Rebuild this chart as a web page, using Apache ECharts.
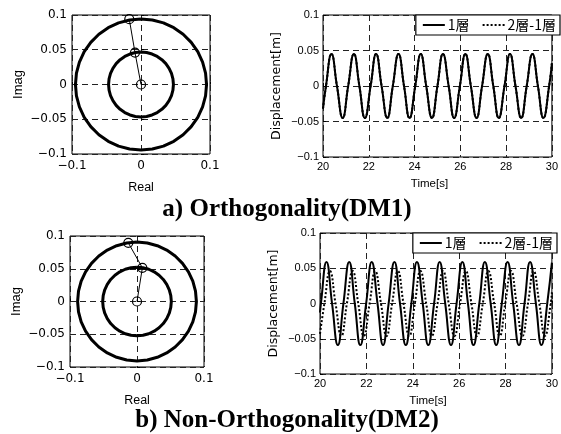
<!DOCTYPE html>
<html><head><meta charset="utf-8">
<script src="https://cdn.jsdelivr.net/npm/echarts@6/dist/echarts.min.js"></script>
<style>html,body{margin:0;padding:0;background:#fff}#c{width:561px;height:434px}</style>
</head><body><div id="c"></div>
<script>
// ---- data ----
const ringAngles = [0,10,20,30,40,50,60,70,80,90,100,110,120,130,140,150,160,170,180,
  190,200,210,220,230,240,250,260,270,280,290,300,310,320,330,340,350,360];
const dm1Radii = [0.047, 0.095];
const dm2Radii = [0.052, 0.090];
const dm1ModeReal = [0, -0.0087, -0.017];
const dm1ModeImag = [0, 0.046, 0.094];
const dm2ModeReal = [0, 0.008, -0.013];
const dm2ModeImag = [0, 0.0514, 0.0896];

const complexXLabels = ['\u22120.1', '0', '0.1'];
const complexYLabels = ['\u22120.1', '\u22120.05', '0', '0.05', '0.1'];
const timeXLabels = ['20', '22', '24', '26', '28', '30'];
const dispYLabels = ['\u22120.1', '\u22120.05', '0', '0.05', '0.1'];
const legendNames = ['1層', '2層-1層'];

const dm1Time = [20.00, 20.13,
  20.37, 20.61, 20.86, 21.10,
  21.35, 21.59, 21.83, 22.08,
  22.32, 22.56, 22.81, 23.05,
  23.30, 23.54, 23.78, 24.03,
  24.27, 24.51, 24.76, 25.00,
  25.24, 25.49, 25.73, 25.98,
  26.22, 26.46, 26.71, 26.95,
  27.20, 27.44, 27.68, 27.93,
  28.17, 28.41, 28.66, 28.90,
  29.15, 29.39, 29.63, 29.88,
  30.00];
const dm1Story1 = [-0.032, 0,
  0.045, 0, -0.045, 0,
  0.045, 0, -0.045, 0,
  0.045, 0, -0.045, 0,
  0.045, 0, -0.045, 0,
  0.045, 0, -0.045, 0,
  0.045, 0, -0.045, 0,
  0.045, 0, -0.045, 0,
  0.045, 0, -0.045, 0,
  0.045, 0, -0.045, 0,
  0.045, 0, -0.045, 0,
  0.032];
const dm1Diff = [-0.032, 0,
  0.045, 0, -0.045, 0,
  0.045, 0, -0.045, 0,
  0.045, 0, -0.045, 0,
  0.045, 0, -0.045, 0,
  0.045, 0, -0.045, 0,
  0.045, 0, -0.045, 0,
  0.045, 0, -0.045, 0,
  0.045, 0, -0.045, 0,
  0.045, 0, -0.045, 0,
  0.045, 0, -0.045, 0,
  0.032];

const dm2Time1 = [20.00, 20.04,
  20.28, 20.52, 20.77, 21.01,
  21.26, 21.50, 21.74, 21.99,
  22.23, 22.48, 22.72, 22.96,
  23.21, 23.45, 23.70, 23.94,
  24.18, 24.43, 24.67, 24.92,
  25.16, 25.40, 25.65, 25.89,
  26.14, 26.38, 26.62, 26.87,
  27.11, 27.36, 27.60, 27.84,
  28.09, 28.33, 28.58, 28.82,
  29.06, 29.31, 29.55, 29.80,
  30.00];
const dm2Story1 = [-0.013, 0,
  0.059, 0, -0.059, 0,
  0.059, 0, -0.059, 0,
  0.059, 0, -0.059, 0,
  0.059, 0, -0.059, 0,
  0.059, 0, -0.059, 0,
  0.059, 0, -0.059, 0,
  0.059, 0, -0.059, 0,
  0.059, 0, -0.059, 0,
  0.059, 0, -0.059, 0,
  0.059, 0, -0.059, 0,
  0.058];
const dm2Time2 = [20.00, 20.19,
  20.43, 20.67, 20.92, 21.16,
  21.41, 21.65, 21.89, 22.14,
  22.38, 22.63, 22.87, 23.11,
  23.36, 23.60, 23.85, 24.09,
  24.33, 24.58, 24.82, 25.07,
  25.31, 25.55, 25.80, 26.04,
  26.29, 26.53, 26.77, 27.02,
  27.26, 27.51, 27.75, 27.99,
  28.24, 28.48, 28.73, 28.97,
  29.21, 29.46, 29.70, 29.95,
  30.00];
const dm2Diff = [-0.043, 0,
  0.046, 0, -0.046, 0,
  0.046, 0, -0.046, 0,
  0.046, 0, -0.046, 0,
  0.046, 0, -0.046, 0,
  0.046, 0, -0.046, 0,
  0.046, 0, -0.046, 0,
  0.046, 0, -0.046, 0,
  0.046, 0, -0.046, 0,
  0.046, 0, -0.046, 0,
  0.046, 0, -0.046, 0,
  0.016];

// ---- helpers ----
const zip = (a, b) => a.map((x, i) => [x, b[i]]);
const ring = r => ringAngles.map(a => [r, a]);

const split = {show: true, lineStyle: {color: '#222', width: 1, type: [6, 4]}};
const tickIn = {show: true, inside: true, length: 3, lineStyle: {color: '#000'}};
const fontC = {fontFamily: 'DejaVu Sans', fontSize: 12, color: '#000'};
const fontT = {fontFamily: 'Liberation Sans', fontSize: 11, color: '#000'};

function complexX(gi) {
  return {type: 'value', gridIndex: gi, min: -0.1, max: 0.1, interval: 0.1,
    axisLine: {show: false}, axisTick: tickIn, splitLine: split,
    axisLabel: Object.assign({margin: 6, formatter: (v, i) => complexXLabels[i]}, fontC),
    name: 'Real', nameLocation: 'middle', nameGap: 27,
    nameTextStyle: {fontFamily: 'Liberation Sans', fontSize: 12.5, color: '#000'}};
}
function complexY(gi) {
  return {type: 'value', gridIndex: gi, min: -0.1, max: 0.1, interval: 0.05,
    axisLine: {show: false}, axisTick: tickIn, splitLine: split,
    axisLabel: Object.assign({margin: 5, formatter: (v, i) => complexYLabels[i]}, fontC),
    name: 'Imag', nameLocation: 'middle', nameGap: 47,
    nameTextStyle: {fontFamily: 'Liberation Sans', fontSize: 13, color: '#000'}};
}
function timeX(gi) {
  return {type: 'value', gridIndex: gi, min: 20, max: 30, interval: 2,
    axisLine: {show: false}, axisTick: tickIn, splitLine: split,
    axisLabel: Object.assign({margin: 4, formatter: (v, i) => timeXLabels[i]}, fontT),
    name: 'Time[s]', nameLocation: 'middle', nameGap: 21,
    nameTextStyle: {fontFamily: 'Liberation Sans', fontSize: 11.5, color: '#000', padding: [0, 16, 0, 0]}};
}
function dispY(gi) {
  return {type: 'value', gridIndex: gi, min: -0.1, max: 0.1, interval: 0.05,
    axisLine: {show: false}, axisTick: tickIn, splitLine: split,
    axisLabel: Object.assign({margin: 4, formatter: (v, i) => dispYLabels[i]}, fontT),
    name: 'Displacement[m]', nameLocation: 'middle', nameGap: 40,
    nameTextStyle: {fontFamily: 'DejaVu Sans', fontSize: 12.5, color: '#000'}};
}
const gridBase = {show: true, borderColor: '#000', borderWidth: 1, backgroundColor: '#fff'};
function legendAt(top, right) {
  return {data: legendNames, top: top, right: right, orient: 'horizontal',
    borderColor: '#000', borderWidth: 1.2, backgroundColor: '#fff', borderRadius: 0,
    padding: [3, 4, 3, 6], itemGap: 12, itemWidth: 22, itemHeight: 12,
    itemStyle: {opacity: 0},
    textStyle: {fontFamily: 'Noto Sans CJK JP', fontSize: 14, color: '#000', padding: [0, 0, 0, -2]}};
}
function ringSeries(pi, r) {
  return {type: 'line', coordinateSystem: 'polar', polarIndex: pi, data: ring(r),
    showSymbol: false, symbol: 'none', silent: true, lineStyle: {color: '#000', width: 3}};
}
function modeSeries(gi, re, im) {
  return {type: 'line', xAxisIndex: gi, yAxisIndex: gi, data: zip(re, im),
    symbol: 'circle', symbolSize: 9, silent: true, z: 5,
    lineStyle: {color: '#000', width: 1},
    itemStyle: {color: 'rgba(0,0,0,0)', borderColor: '#000', borderWidth: 1.2}};
}
function timeSeries(gi, name, t, v, dotted) {
  return {type: 'line', name: name, xAxisIndex: gi, yAxisIndex: gi, data: zip(t, v),
    symbol: 'none', smooth: 0.5, silent: true, z: dotted ? 3 : 4,
    lineStyle: {color: '#000', width: 2, type: dotted ? [2, 2] : 'solid'}};
}

const chart = echarts.init(document.getElementById('c'), null, {renderer: 'canvas'});
chart.setOption({
  animation: false,
  backgroundColor: '#fff',
  color: ['#000'],
  title: [
    {text: 'a) Orthogonality(DM1)', left: 287, top: 197, textAlign: 'center', padding: 0,
      textStyle: {fontFamily: 'Liberation Serif', fontWeight: 'bold', fontSize: 25, color: '#000'}},
    {text: 'b) Non-Orthogonality(DM2)', left: 287, top: 408, textAlign: 'center', padding: 0,
      textStyle: {fontFamily: 'Liberation Serif', fontWeight: 'bold', fontSize: 25, color: '#000'}}
  ],
  grid: [
    Object.assign({left: 72, top: 15, width: 138, height: 139}, gridBase),
    Object.assign({left: 323, top: 15, width: 237, height: 142}, gridBase),
    Object.assign({left: 70, top: 236, width: 134, height: 131}, gridBase),
    Object.assign({left: 320, top: 233, width: 236, height: 141}, gridBase)
  ],
  xAxis: [complexX(0), timeX(1), complexX(2), timeX(3)],
  yAxis: [complexY(0), dispY(1), complexY(2), dispY(3)],
  polar: [
    {center: [141, 84.5], radius: 69},
    {center: [137, 301.5], radius: 66}
  ],
  angleAxis: [
    {polarIndex: 0, type: 'value', min: 0, max: 360, show: false},
    {polarIndex: 1, type: 'value', min: 0, max: 360, show: false}
  ],
  radiusAxis: [
    {polarIndex: 0, type: 'value', min: 0, max: 0.1, show: false},
    {polarIndex: 1, type: 'value', min: 0, max: 0.1, show: false}
  ],
  legend: [legendAt(15, 1), legendAt(233, 4)],
  series: [
    ringSeries(0, dm1Radii[0]), ringSeries(0, dm1Radii[1]),
    modeSeries(0, dm1ModeReal, dm1ModeImag),
    timeSeries(1, legendNames[0], dm1Time, dm1Story1, false),
    timeSeries(1, legendNames[1], dm1Time, dm1Diff, true),
    ringSeries(1, dm2Radii[0]), ringSeries(1, dm2Radii[1]),
    modeSeries(2, dm2ModeReal, dm2ModeImag),
    timeSeries(3, legendNames[0], dm2Time1, dm2Story1, false),
    timeSeries(3, legendNames[1], dm2Time2, dm2Diff, true)
  ]
});
</script></body></html>
